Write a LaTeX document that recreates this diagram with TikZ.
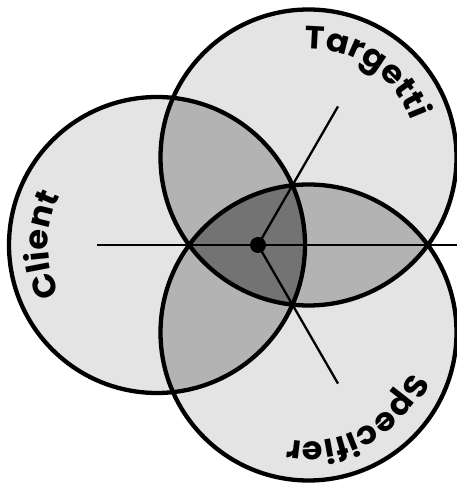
\documentclass[tikz,border=0pt]{standalone}
\usepackage{fontspec}
\newfontfamily\lblfont{Poppins}[FakeStretch=1.05]
\usetikzlibrary{decorations.text}
\definecolor{lightfill}{HTML}{E4E4E4}
\definecolor{midfill}{HTML}{B3B3B3}
\definecolor{darkfill}{HTML}{737373}
\tikzset{
  ring/.style={draw=black, line width=4.3pt},
  spoke/.style={draw=black, line width=2.3pt},
  centerdot/.style={circle, fill=black, inner sep=0pt, minimum size=16pt},
  lbl/.style={decorate, decoration={text along path, text align=center,
     text={|\lblfont\bfseries\fontsize{32}{32}\selectfont|#1}}}
}
\begin{document}
\begin{tikzpicture}[x=1pt,y=1pt]
\useasboundingbox (0,0) rectangle (457,484);
\def\R{148}
\coordinate (C) at (157,239);
\coordinate (T) at (308.5,326.5);
\coordinate (S) at (308.5,151.5);
\coordinate (G) at (258,239);
\coordinate (L) at (97,239);
\coordinate (Rt) at (457,239);
\coordinate (U) at (338,377.6);
\coordinate (D) at (338,100.4);
% base fills
\fill[lightfill] (C) circle (\R);
\fill[lightfill] (T) circle (\R);
\fill[lightfill] (S) circle (\R);
% pairwise overlaps
\begin{scope}
  \clip (C) circle (\R);
  \fill[midfill] (T) circle (\R);
  \fill[midfill] (S) circle (\R);
\end{scope}
\begin{scope}
  \clip (T) circle (\R);
  \fill[midfill] (S) circle (\R);
\end{scope}
% triple overlap
\begin{scope}
  \clip (C) circle (\R);
  \clip (T) circle (\R);
  \fill[darkfill] (S) circle (\R);
\end{scope}
% outlines
\draw[ring] (C) circle (\R);
\draw[ring] (T) circle (\R);
\draw[ring] (S) circle (\R);
% spokes
\node[centerdot] (dot) at (G) {};
\draw[spoke] (dot.center) -- (L);
\draw[spoke] (dot.center) -- (Rt);
\draw[spoke] (dot.center) -- (U);
\draw[spoke] (dot.center) -- (D);
% labels
\path[lbl={Targetti}] (T) ++(101:109) arc[start angle=101, end angle=11, radius=109];
\path[lbl={Client}] (C) ++(240:109) arc[start angle=240, end angle=120, radius=109];
\path[lbl={Specifier}] (S) ++(-1:109) arc[start angle=-1, end angle=-121, radius=109];
\end{tikzpicture}
\end{document}
